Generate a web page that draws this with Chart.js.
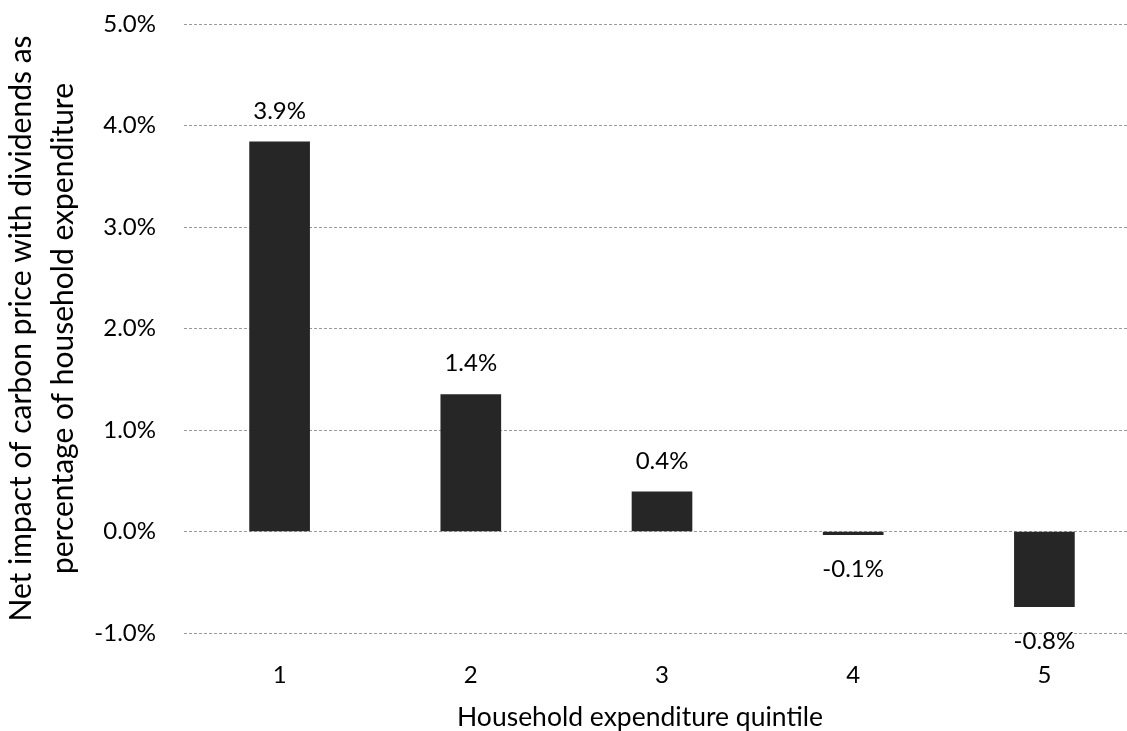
<!DOCTYPE html>
<html>
<head>
<meta charset="utf-8">
<script src="https://cdn.jsdelivr.net/npm/chart.js@4"></script>
<style>
    html, body { margin: 0; padding: 0; background: #fff; overflow: hidden; }
    #wrap { width: 1145px; height: 731px; }
</style>
</head>
<body>
<div id="wrap"><canvas id="quintileChart" width="1145" height="731"></canvas></div>
<script>
// Chart data
const quintiles = ['1', '2', '3', '4', '5'];
const netImpact = [3.84, 1.35, 0.39, -0.03, -0.74];
const valueLabels = ['3.9%', '1.4%', '0.4%', '-0.1%', '-0.8%'];
const yTicks = [-1, 0, 1, 2, 3, 4, 5];
const xTitle = 'Household expenditure quintile';

const FONT = 'Lato, "Open Sans", sans-serif';

// Value labels over / under each bar, plus the x axis title
const barLabels = {
    id: 'barLabels',
    afterDatasetsDraw(chart) {
        const ctx = chart.ctx;
        const meta = chart.getDatasetMeta(0);
        ctx.save();
        ctx.font = '24px ' + FONT;
        ctx.fillStyle = '#000';
        ctx.textAlign = 'center';
        ctx.textBaseline = 'alphabetic';
        meta.data.forEach((bar, i) => {
            const v = netImpact[i];
            const y = v >= 0 ? bar.y - 23 : bar.y + 42;
            ctx.fillText(valueLabels[i], bar.x, y);
        });
        // x title sits centred on the page, not on the plot area
        ctx.font = '26.5px ' + FONT;
        ctx.fillText(xTitle, 640, 726);
        ctx.restore();
    }
};

const chart = new Chart(document.getElementById('quintileChart'), {
    type: 'bar',
    data: {
        labels: quintiles,
        datasets: [{
            data: netImpact,
            backgroundColor: '#262626',
            borderWidth: 0,
            barThickness: 60
        }]
    },
    options: {
        responsive: false,
        animation: false,
        layout: { padding: { top: 24, left: 0, right: 5, bottom: 0 } },
        plugins: {
            legend: { display: false },
            tooltip: { enabled: false }
        },
        scales: {
            x: {
                grid: { display: false, drawTicks: false },
                border: { display: false },
                ticks: {
                    color: '#000',
                    font: { family: FONT, size: 24 },
                    padding: 28
                },
                afterFit(scale) { scale.height = 98; }
            },
            y: {
                min: -1,
                max: 5,
                afterBuildTicks(scale) {
                    scale.ticks = yTicks.map(v => ({ value: v }));
                },
                grid: {
                    color: '#9a9a9a',
                    lineWidth: 1,
                    drawTicks: false
                },
                border: { display: false, dash: [3, 2] },
                ticks: {
                    color: '#000',
                    font: { family: FONT, size: 24 },
                    padding: 28,
                    callback: v => v.toFixed(1) + '%'
                },
                title: {
                    display: true,
                    text: ['Net impact of carbon price with dividends as', 'percentage of household expenditure'],
                    color: '#000',
                    font: { family: FONT, size: 30, lineHeight: 1.4 },
                    padding: { top: 0, bottom: 2 }
                },
                afterFit(scale) {
                    scale.width = 184;
                    scale.paddingTop = 0;
                    scale.paddingBottom = 0;
                }
            }
        }
    },
    plugins: [barLabels]
});
</script>
</body>
</html>
